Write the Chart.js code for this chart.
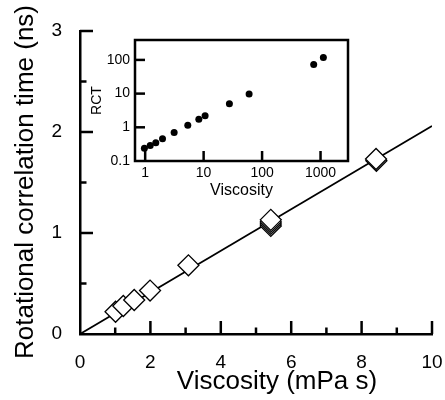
<!DOCTYPE html>
<html>
<head>
<meta charset="utf-8">
<script src="https://cdn.jsdelivr.net/npm/chart.js@4"></script>
<style>
  html, body { margin: 0; padding: 0; background: #fff; }
  #wrap { position: relative; width: 445px; height: 400px; }
  #main { position: absolute; left: 0; top: 0; }
  #inset { position: absolute; left: 85px; top: 28px; }
</style>
</head>
<body>
<div id="wrap">
  <canvas id="main" width="445" height="400" style="width:445px;height:400px"></canvas>
  <canvas id="inset" width="275" height="180" style="width:275px;height:180px"></canvas>
</div>
<script>
// main panel: viscosity (mPa s) vs rotational correlation time (ns)
const viscosity = [1.01, 1.23, 1.54, 1.99, 3.08, 5.42, 5.42, 5.42, 5.42, 8.42, 8.41];
const rct = [0.22, 0.277, 0.337, 0.43, 0.68, 1.07, 1.09, 1.11, 1.13, 1.715, 1.733];
const fitX = [0, 10];
const fitY = [0, 2.06];
const xTickLabels = [0, 2, 4, 6, 8, 10];
const yTickLabels = [0, 1, 2, 3];

// inset: log-log over the wide viscosity range
const insetViscosity = [0.97, 1.22, 1.52, 1.98, 3.13, 5.36, 8.28, 10.6, 27.6, 60, 764, 1118];
const insetRct = [0.237, 0.29, 0.35, 0.456, 0.70, 1.15, 1.73, 2.22, 5.0, 9.7, 72.6, 117];
const insetXTicks = [1, 10, 100, 1000];
const insetYTicks = [0.1, 1, 10, 100];

const FONT = '"Liberation Sans", Arial, Helvetica, sans-serif';
Chart.defaults.font.family = FONT;
Chart.defaults.color = '#000';

function drawTick(ctx, x1, y1, x2, y2) {
  ctx.beginPath();
  ctx.moveTo(x1, y1);
  ctx.lineTo(x2, y2);
  ctx.stroke();
}

// keep the label overhang from shrinking the plot area
function fixSize(prop, size) {
  return s => {
    s[prop] = size;
    s.paddingLeft = s.paddingRight = s.paddingTop = s.paddingBottom = 0;
  };
}

// ticks pointing into the plot, long on labelled values, short between
const mainTicks = {
  id: 'mainTicks',
  afterDraw(chart) {
    const { ctx, chartArea: a, scales: { x, y } } = chart;
    ctx.save();
    ctx.strokeStyle = '#000';
    ctx.lineWidth = 2.5;
    for (let v = 1; v <= 10; v++) {
      const px = x.getPixelForValue(v);
      const len = v % 2 === 0 ? 13 : 6.5;
      drawTick(ctx, px, a.bottom, px, a.bottom - len);
    }
    for (let v = 0.5; v <= 3; v += 0.5) {
      const py = y.getPixelForValue(v);
      const len = Number.isInteger(v) ? 13 : 6.5;
      drawTick(ctx, a.left, py, a.left + len, py);
    }
    // axis titles
    ctx.fillStyle = '#000';
    ctx.font = '26px ' + FONT;
    ctx.textAlign = 'center';
    ctx.textBaseline = 'middle';
    ctx.fillText('Viscosity (mPa s)', 277, 382);
    ctx.translate(26, 182);
    ctx.rotate(-Math.PI / 2);
    ctx.fillText('Rotational correlation time (ns)', 0, 0);
    ctx.restore();
  }
};

const insetFrame = {
  id: 'insetFrame',
  afterDraw(chart) {
    const { ctx, chartArea: a, scales: { x, y } } = chart;
    ctx.save();
    ctx.strokeStyle = '#000';
    ctx.lineWidth = 2.5;
    ctx.strokeRect(a.left, a.top, a.right - a.left, a.bottom - a.top);
    insetXTicks.forEach(v => {
      const px = x.getPixelForValue(v);
      drawTick(ctx, px, a.bottom, px, a.bottom - 10);
    });
    insetYTicks.slice(1).forEach(v => {
      const py = y.getPixelForValue(v);
      drawTick(ctx, a.left, py, a.left + 10, py);
    });
    ctx.restore();
  }
};

new Chart(document.getElementById('main'), {
  type: 'scatter',
  data: {
    datasets: [{
      data: viscosity.map((v, i) => ({ x: v, y: rct[i] })),
      pointStyle: 'rectRot',
      pointRadius: 10.5,
      backgroundColor: '#fff',
      borderColor: '#000',
      borderWidth: 1.3,
      order: 0
    }, {
      type: 'line',
      data: fitX.map((v, i) => ({ x: v, y: fitY[i] })),
      borderColor: '#000',
      borderWidth: 1.8,
      pointRadius: 0,
      fill: false,
      order: 1
    }]
  },
  options: {
    responsive: false,
    animation: false,
    events: [],
    layout: { padding: { top: 31, right: 13, left: 0, bottom: 0 } },
    plugins: { legend: { display: false }, tooltip: { enabled: false } },
    scales: {
      x: {
        type: 'linear', min: 0, max: 10,
        afterFit: fixSize('height', 66),
        afterBuildTicks: s => { s.ticks = xTickLabels.map(v => ({ value: v })); },
        grid: { display: false, drawTicks: false },
        border: { display: true, width: 2.5, color: '#000' },
        ticks: { font: { size: 19 }, padding: 17, maxRotation: 0 }
      },
      y: {
        type: 'linear', min: 0, max: 3,
        afterFit: fixSize('width', 80),
        afterBuildTicks: s => { s.ticks = yTickLabels.map(v => ({ value: v })); },
        grid: { display: false, drawTicks: false },
        border: { display: true, width: 2.5, color: '#000' },
        ticks: { font: { size: 19 }, padding: 18 }
      }
    }
  },
  plugins: [mainTicks]
});

new Chart(document.getElementById('inset'), {
  type: 'scatter',
  data: {
    datasets: [{
      data: insetViscosity.map((v, i) => ({ x: v, y: insetRct[i] })),
      pointRadius: 3.5,
      backgroundColor: '#000',
      borderColor: '#000',
      borderWidth: 0
    }]
  },
  options: {
    responsive: false,
    animation: false,
    events: [],
    layout: { padding: { top: 12, right: 12, left: 0, bottom: 0 } },
    plugins: { legend: { display: false }, tooltip: { enabled: false } },
    scales: {
      x: {
        type: 'logarithmic', min: 0.67, max: 2950,
        afterFit: fixSize('height', 47),
        afterBuildTicks: s => { s.ticks = insetXTicks.map(v => ({ value: v })); },
        grid: { display: false, drawTicks: false },
        border: { display: false },
        ticks: { font: { size: 14 }, padding: 4, maxRotation: 0, autoSkip: false, callback: v => String(v) },
        title: { display: true, text: 'Viscosity', font: { size: 16 }, padding: { top: 0, bottom: 8 } }
      },
      y: {
        type: 'logarithmic', min: 0.1, max: 390,
        afterFit: fixSize('width', 50),
        afterBuildTicks: s => { s.ticks = insetYTicks.map(v => ({ value: v })); },
        grid: { display: false, drawTicks: false },
        border: { display: false },
        ticks: { font: { size: 14 }, padding: 5, autoSkip: false, callback: v => String(v) },
        title: { display: true, text: 'RCT', font: { size: 14 }, padding: { top: 4, bottom: 0 } }
      }
    }
  },
  plugins: [insetFrame]
});
</script>
</body>
</html>
